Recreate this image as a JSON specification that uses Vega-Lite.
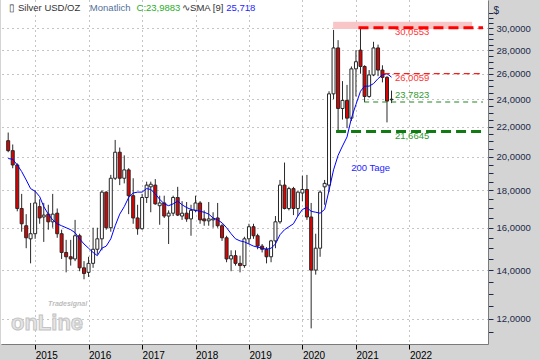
{
  "$schema": "https://vega.github.io/schema/vega-lite/v6.json",
  "width": 487,
  "height": 344,
  "autosize": {"type": "none"},
  "padding": {"left": 1, "top": 0, "right": 52, "bottom": 16},
  "background": "#d4d4d4",
  "config": {
    "font": "Liberation Sans",
    "view": {"fill": "white", "stroke": null}
  },
  "resolve": {"axis": {"x": "independent", "y": "independent"}},
  "datasets": {
    "candles": [
      {"d":"2014-07-01","o":21.05,"h":21.6,"l":20.3,"c":20.4,"s":19.9},
      {"d":"2014-08-01","o":20.4,"h":20.8,"l":19.3,"c":19.5,"s":19.85},
      {"d":"2014-09-01","o":19.5,"h":19.6,"l":16.85,"c":17.0,"s":19.5},
      {"d":"2014-10-01","o":17.0,"h":17.8,"l":15.8,"c":16.2,"s":19.1},
      {"d":"2014-11-01","o":16.1,"h":16.7,"l":15.0,"c":15.5,"s":18.6},
      {"d":"2014-12-01","o":15.45,"h":17.3,"l":14.3,"c":15.7,"s":18.1},
      {"d":"2015-01-01","o":15.7,"h":18.0,"l":15.45,"c":17.3,"s":17.95},
      {"d":"2015-02-01","o":17.1,"h":17.5,"l":16.2,"c":16.5,"s":17.65},
      {"d":"2015-03-01","o":16.55,"h":17.3,"l":15.3,"c":16.65,"s":17.1},
      {"d":"2015-04-01","o":16.7,"h":17.2,"l":15.9,"c":16.3,"s":16.7},
      {"d":"2015-05-01","o":16.3,"h":17.8,"l":16.0,"c":16.7,"s":16.4},
      {"d":"2015-06-01","o":16.75,"h":17.0,"l":15.5,"c":15.7,"s":16.2},
      {"d":"2015-07-01","o":15.7,"h":15.9,"l":14.5,"c":14.8,"s":16.1},
      {"d":"2015-08-01","o":14.8,"h":15.4,"l":13.9,"c":14.6,"s":16.0},
      {"d":"2015-09-01","o":14.6,"h":15.4,"l":14.2,"c":14.5,"s":15.9},
      {"d":"2015-10-01","o":14.5,"h":16.4,"l":14.4,"c":15.6,"s":15.75},
      {"d":"2015-11-01","o":15.6,"h":15.7,"l":13.95,"c":14.1,"s":15.45},
      {"d":"2015-12-01","o":14.1,"h":14.4,"l":13.6,"c":13.85,"s":15.2},
      {"d":"2016-01-01","o":13.9,"h":14.6,"l":13.7,"c":14.3,"s":15.0},
      {"d":"2016-02-01","o":14.3,"h":16.0,"l":14.1,"c":14.95,"s":14.8},
      {"d":"2016-03-01","o":14.95,"h":16.0,"l":14.7,"c":15.45,"s":14.65},
      {"d":"2016-04-01","o":15.45,"h":18.0,"l":14.9,"c":17.9,"s":15.0},
      {"d":"2016-05-01","o":17.9,"h":17.95,"l":15.9,"c":16.0,"s":15.1},
      {"d":"2016-06-01","o":16.0,"h":18.9,"l":15.8,"c":18.7,"s":15.45},
      {"d":"2016-07-01","o":18.7,"h":21.1,"l":18.6,"c":20.3,"s":16.1},
      {"d":"2016-08-01","o":20.3,"h":20.6,"l":18.3,"c":18.7,"s":16.7},
      {"d":"2016-09-01","o":18.7,"h":20.1,"l":18.4,"c":19.2,"s":17.1},
      {"d":"2016-10-01","o":19.2,"h":19.3,"l":16.7,"c":17.7,"s":17.6},
      {"d":"2016-11-01","o":17.7,"h":18.7,"l":16.2,"c":16.5,"s":17.85},
      {"d":"2016-12-01","o":16.5,"h":17.2,"l":15.65,"c":15.95,"s":17.9},
      {"d":"2017-01-01","o":15.95,"h":17.8,"l":15.9,"c":17.6,"s":17.9},
      {"d":"2017-02-01","o":17.6,"h":18.5,"l":17.3,"c":18.3,"s":18.1},
      {"d":"2017-03-01","o":18.2,"h":18.5,"l":16.8,"c":18.35,"s":18.05},
      {"d":"2017-04-01","o":18.3,"h":18.65,"l":17.2,"c":17.25,"s":17.8},
      {"d":"2017-05-01","o":17.15,"h":17.7,"l":16.15,"c":17.3,"s":17.5},
      {"d":"2017-06-01","o":17.3,"h":17.7,"l":16.5,"c":16.6,"s":17.25},
      {"d":"2017-07-01","o":16.6,"h":16.9,"l":15.2,"c":16.75,"s":17.15},
      {"d":"2017-08-01","o":16.75,"h":17.7,"l":16.6,"c":17.6,"s":17.25},
      {"d":"2017-09-01","o":17.6,"h":18.2,"l":16.6,"c":16.65,"s":17.4},
      {"d":"2017-10-01","o":16.6,"h":17.4,"l":16.4,"c":16.75,"s":17.2},
      {"d":"2017-11-01","o":16.75,"h":17.35,"l":16.3,"c":16.45,"s":17.05},
      {"d":"2017-12-01","o":16.45,"h":17.2,"l":15.6,"c":16.9,"s":16.95},
      {"d":"2018-01-01","o":16.9,"h":17.7,"l":16.8,"c":17.3,"s":16.9},
      {"d":"2018-02-01","o":17.3,"h":17.4,"l":16.2,"c":16.4,"s":16.85},
      {"d":"2018-03-01","o":16.45,"h":16.9,"l":16.1,"c":16.35,"s":16.8},
      {"d":"2018-04-01","o":16.35,"h":17.35,"l":16.1,"c":16.45,"s":16.7},
      {"d":"2018-05-01","o":16.4,"h":16.8,"l":16.0,"c":16.45,"s":16.5},
      {"d":"2018-06-01","o":16.5,"h":17.3,"l":16.0,"c":16.1,"s":16.4},
      {"d":"2018-07-01","o":16.1,"h":16.2,"l":15.35,"c":15.5,"s":16.25},
      {"d":"2018-08-01","o":15.5,"h":15.6,"l":14.35,"c":14.5,"s":16.0},
      {"d":"2018-09-01","o":14.5,"h":14.9,"l":13.95,"c":14.65,"s":15.7},
      {"d":"2018-10-01","o":14.65,"h":14.9,"l":14.2,"c":14.3,"s":15.45},
      {"d":"2018-11-01","o":14.3,"h":14.65,"l":13.9,"c":14.2,"s":15.35},
      {"d":"2018-12-01","o":14.2,"h":15.55,"l":14.1,"c":15.45,"s":15.3},
      {"d":"2019-01-01","o":15.45,"h":16.2,"l":15.2,"c":16.05,"s":15.2},
      {"d":"2019-02-01","o":16.05,"h":16.2,"l":15.45,"c":15.6,"s":15.1},
      {"d":"2019-03-01","o":15.6,"h":15.7,"l":14.95,"c":15.1,"s":15.05},
      {"d":"2019-04-01","o":15.1,"h":15.2,"l":14.8,"c":14.95,"s":15.0},
      {"d":"2019-05-01","o":14.95,"h":15.05,"l":14.3,"c":14.6,"s":14.95},
      {"d":"2019-06-01","o":14.6,"h":15.4,"l":14.35,"c":15.35,"s":15.0},
      {"d":"2019-07-01","o":15.35,"h":16.6,"l":15.0,"c":16.3,"s":15.2},
      {"d":"2019-08-01","o":16.3,"h":18.6,"l":16.2,"c":18.3,"s":15.65},
      {"d":"2019-09-01","o":18.3,"h":19.65,"l":16.95,"c":17.0,"s":15.9},
      {"d":"2019-10-01","o":17.0,"h":18.2,"l":16.9,"c":18.1,"s":16.05},
      {"d":"2019-11-01","o":18.1,"h":18.2,"l":16.65,"c":17.0,"s":16.2},
      {"d":"2019-12-01","o":17.0,"h":17.95,"l":16.6,"c":17.9,"s":16.6},
      {"d":"2020-01-01","o":17.85,"h":18.85,"l":17.4,"c":18.05,"s":16.95},
      {"d":"2020-02-01","o":18.05,"h":18.9,"l":16.4,"c":16.55,"s":17.05},
      {"d":"2020-03-01","o":16.55,"h":17.3,"l":11.65,"c":14.0,"s":16.85},
      {"d":"2020-04-01","o":14.0,"h":15.7,"l":13.8,"c":15.0,"s":16.8},
      {"d":"2020-05-01","o":15.0,"h":18.0,"l":14.6,"c":17.9,"s":16.75},
      {"d":"2020-06-01","o":18.2,"h":18.6,"l":17.2,"c":18.4,"s":16.95},
      {"d":"2020-07-01","o":18.3,"h":24.6,"l":17.9,"c":24.4,"s":18.0},
      {"d":"2020-08-01","o":24.4,"h":29.85,"l":24.0,"c":28.2,"s":19.2},
      {"d":"2020-09-01","o":28.2,"h":28.9,"l":21.6645,"c":23.3,"s":20.1},
      {"d":"2020-10-01","o":23.3,"h":25.4,"l":22.5,"c":23.9,"s":20.7},
      {"d":"2020-11-01","o":23.9,"h":25.1,"l":21.9,"c":22.6,"s":21.3},
      {"d":"2020-12-01","o":22.6,"h":26.6,"l":22.4,"c":26.4,"s":22.6},
      {"d":"2021-01-01","o":26.4,"h":28.0,"l":24.2,"c":27.0,"s":23.6},
      {"d":"2021-02-01","o":28.0,"h":30.0553,"l":26.0,"c":26.6,"s":24.6},
      {"d":"2021-03-01","o":26.6,"h":26.7,"l":23.7823,"c":24.2,"s":25.0},
      {"d":"2021-04-01","o":24.2,"h":26.3,"l":24.1,"c":25.9,"s":25.0},
      {"d":"2021-05-01","o":25.9,"h":28.75,"l":25.8,"c":28.2,"s":25.2},
      {"d":"2021-06-01","o":28.2,"h":28.5,"l":25.8,"c":26.3,"s":25.6},
      {"d":"2021-07-01","o":26.3,"h":26.7,"l":25.3,"c":25.7,"s":25.9},
      {"d":"2021-08-01","o":25.7,"h":25.8,"l":22.3,"c":23.85,"s":26.0059},
      {"d":"2021-09-01","o":23.95,"h":24.65,"l":23.7,"c":23.9883,"s":25.718}
    ],
    "levels": [
      {"kind":"r3","p":30.0553,"s":"2021-01-18","e":"2023-05-19"},
      {"kind":"r1","p":26.0059,"s":"2021-07-10","e":"2023-05-19"},
      {"kind":"g1","p":23.7823,"s":"2021-02-26","e":"2023-05-19"},
      {"kind":"g3","p":21.6645,"s":"2020-08-18","e":"2023-05-19"}
    ],
    "zones": [
      {"s":"2020-07-29","e":"2023-03-06","lo":29.93,"hi":30.63}
    ],
    "header": [
      {"t":"▯","r":"name","d":"2014-07-04","p":32.03},
      {"t":"Silver USD/OZ","r":"name","d":"2014-09-06","p":32.03},
      {"t":"Monatlich","r":"freq","d":"2016-01-10","p":32.03},
      {"t":"C:23,9883","r":"close","d":"2016-11-24","p":32.03},
      {"t":"∿SMA [9]","r":"name","d":"2017-10-01","p":32.03},
      {"t":"25,718","r":"smav","d":"2018-07-30","p":32.03}
    ],
    "notes": [
      {"t":"30,0553","r":"red","d":"2021-09-24","p":29.62},
      {"t":"26,0059","r":"red","d":"2021-09-24","p":25.67},
      {"t":"23,7823","r":"green","d":"2021-09-24","p":24.29},
      {"t":"21,6645","r":"green","d":"2021-09-24","p":21.39},
      {"t":"200 Tage","r":"smav","d":"2020-11-29","p":19.3}
    ],
    "logo": [
      {"t":"Tradesignal","d":"2015-03-30","p":12.58}
    ],
    "logo2": [
      {"t":"onLine","d":"2014-07-20","p":11.85}
    ]
  },
  "layer": [
    {
      "data": {"name": "zones"},
      "mark": {"type": "rect", "fill": "#f8c6c6"},
      "encoding": {
        "x": {
          "field": "s", "type": "temporal", "title": null,
          "scale": {"type": "utc", "domain": [{"year":2014,"month":6,"date":16,"utc":true},{"year":2023,"month":5,"date":19,"utc":true}]},
          "axis": {
            "values": [
              {"year":2015,"month":1,"date":1,"utc":true},
              {"year":2016,"month":1,"date":1,"utc":true},
              {"year":2017,"month":1,"date":1,"utc":true},
              {"year":2018,"month":1,"date":1,"utc":true},
              {"year":2019,"month":1,"date":1,"utc":true},
              {"year":2020,"month":1,"date":1,"utc":true},
              {"year":2021,"month":1,"date":1,"utc":true},
              {"year":2022,"month":1,"date":1,"utc":true}
            ],
            "format": "%Y",
            "labelAlign": "left", "labelDx": 2, "labelPadding": 1,
            "labelFontSize": 10, "labelColor": "#000000",
            "labelFlush": false, "labelOverlap": false, "labelBound": false,
            "tickSize": 5, "tickColor": "#000000",
            "domain": true, "domainColor": "#7a7a7a",
            "grid": true, "gridDash": [1, 4], "gridColor": "#8a8a8a"
          }
        },
        "x2": {"field": "e"},
        "y": {
          "field": "lo", "type": "quantitative", "title": null,
          "scale": {"type": "log", "domain": [11.09, 32.8], "nice": false},
          "axis": {
            "orient": "right",
            "values": [11.5,12,12.5,13,13.5,14,14.5,15,15.5,16,16.5,17,17.5,18,18.5,19,19.5,20,20.5,21,21.5,22,22.5,23,23.5,24,24.5,25,25.5,26,26.5,27,27.5,28,28.5,29,29.5,30,30.5,31,31.5],
            "labelExpr": "(datum.value % 2 == 0 && datum.value <= 30) ? replace(format(datum.value, '.4f'), '.', ',') : ''",
            "labelFontSize": 9.5, "labelColor": "#1a2a4a", "labelPadding": 3,
            "labelOverlap": false, "labelBound": false, "labelFlush": false,
            "tickSize": 5, "tickColor": "#1a2a4a",
            "domain": true, "domainColor": "#7a7a7a",
            "grid": true, "gridDash": [1, 4], "gridColor": "#8a8a8a",
            "gridOpacity": {"condition": {"test": "datum.value % 2 == 0", "value": 1}, "value": 0},
            "title": "$", "titleAngle": 0, "titleX": 5, "titleY": 10,
            "titleAlign": "left", "titleBaseline": "middle",
            "titleFontSize": 10, "titleFontWeight": "normal", "titleColor": "#1a2a4a"
          }
        },
        "y2": {"field": "hi"}
      }
    },
    {
      "data": {"name": "logo2"},
      "mark": {"type": "text", "align": "left", "baseline": "middle", "fontSize": 22, "fontWeight": "bold", "fill": "#e6e6e6", "stroke": "#c4c4c4", "strokeWidth": 1},
      "encoding": {
        "x": {"field": "d", "type": "temporal", "axis": null},
        "y": {"field": "p", "type": "quantitative", "axis": null},
        "text": {"field": "t"}
      }
    },
    {
      "data": {"name": "logo"},
      "mark": {"type": "text", "align": "left", "baseline": "middle", "fontSize": 7, "fontStyle": "italic", "fontWeight": "bold", "fill": "#bdbdbd"},
      "encoding": {
        "x": {"field": "d", "type": "temporal", "axis": null},
        "y": {"field": "p", "type": "quantitative", "axis": null},
        "text": {"field": "t"}
      }
    },
    {
      "data": {"name": "candles"},
      "mark": {"type": "rule", "color": "#2a2a2a", "strokeWidth": 1},
      "encoding": {
        "x": {"field": "d", "type": "temporal", "axis": null},
        "y": {"field": "l", "type": "quantitative", "axis": null},
        "y2": {"field": "h"}
      }
    },
    {
      "data": {"name": "candles"},
      "mark": {"type": "bar", "width": 3, "stroke": "#262626", "strokeWidth": 1},
      "encoding": {
        "x": {"field": "d", "type": "temporal", "axis": null},
        "y": {"field": "o", "type": "quantitative", "axis": null},
        "y2": {"field": "c"},
        "fill": {"condition": {"test": "datum.c < datum.o", "value": "#e00000"}, "value": "#ffffff"}
      }
    },
    {
      "data": {"name": "candles"},
      "mark": {"type": "line", "color": "#0000ff", "strokeWidth": 1},
      "encoding": {
        "x": {"field": "d", "type": "temporal", "axis": null},
        "y": {"field": "s", "type": "quantitative", "axis": null}
      }
    },
    {
      "data": {"name": "levels"},
      "transform": [{"filter": "datum.kind == 'r3'"}],
      "mark": {"type": "rule", "stroke": "#ff0000", "strokeWidth": 3, "strokeDash": [10, 5]},
      "encoding": {
        "x": {"field": "s", "type": "temporal", "axis": null},
        "x2": {"field": "e"},
        "y": {"field": "p", "type": "quantitative", "axis": null}
      }
    },
    {
      "data": {"name": "levels"},
      "transform": [{"filter": "datum.kind == 'g3'"}],
      "mark": {"type": "rule", "stroke": "#137a13", "strokeWidth": 3, "strokeDash": [10, 5]},
      "encoding": {
        "x": {"field": "s", "type": "temporal", "axis": null},
        "x2": {"field": "e"},
        "y": {"field": "p", "type": "quantitative", "axis": null}
      }
    },
    {
      "data": {"name": "levels"},
      "transform": [{"filter": "datum.kind == 'r1'"}],
      "mark": {"type": "rule", "stroke": "#ff1a1a", "strokeWidth": 1.2, "strokeDash": [6, 4]},
      "encoding": {
        "x": {"field": "s", "type": "temporal", "axis": null},
        "x2": {"field": "e"},
        "y": {"field": "p", "type": "quantitative", "axis": null}
      }
    },
    {
      "data": {"name": "levels"},
      "transform": [{"filter": "datum.kind == 'g1'"}],
      "mark": {"type": "rule", "stroke": "#238523", "strokeWidth": 1.2, "strokeDash": [5, 4]},
      "encoding": {
        "x": {"field": "s", "type": "temporal", "axis": null},
        "x2": {"field": "e"},
        "y": {"field": "p", "type": "quantitative", "axis": null}
      }
    },
    {
      "data": {"name": "header"},
      "mark": {"type": "text", "align": "left", "baseline": "middle", "fontSize": 9.5},
      "encoding": {
        "x": {"field": "d", "type": "temporal", "axis": null},
        "y": {"field": "p", "type": "quantitative", "axis": null},
        "text": {"field": "t"},
        "fill": {"field": "r", "type": "nominal", "legend": null,
          "scale": {"domain": ["name","freq","close","smav","red","green"], "range": ["#333333","#52709a","#1fae1f","#2424ff","#ff3333","#2f9a2f"]}}
      }
    },
    {
      "data": {"name": "notes"},
      "mark": {"type": "text", "align": "left", "baseline": "middle", "fontSize": 9.5},
      "encoding": {
        "x": {"field": "d", "type": "temporal", "axis": null},
        "y": {"field": "p", "type": "quantitative", "axis": null},
        "text": {"field": "t"},
        "fill": {"field": "r", "type": "nominal", "legend": null,
          "scale": {"domain": ["name","freq","close","smav","red","green"], "range": ["#333333","#52709a","#1fae1f","#2424ff","#ff3333","#2f9a2f"]}}
      }
    }
  ]
}
